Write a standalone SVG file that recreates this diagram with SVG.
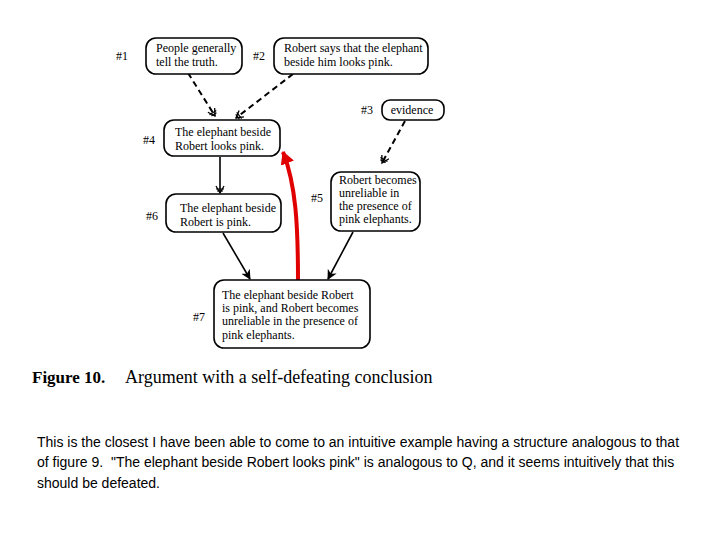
<svg xmlns="http://www.w3.org/2000/svg" width="720" height="540" viewBox="0 0 720 540">
<style>
.box{fill:#fff;stroke:#000;stroke-width:1.6}
.t{font-family:"Liberation Serif",serif;font-size:12px;fill:#000}
.lab{font-family:"Liberation Serif",serif;font-size:12px;fill:#000}
.dash{fill:none;stroke:#000;stroke-width:2;stroke-dasharray:6,4}
.sol{fill:none;stroke:#000;stroke-width:1.6}
.cap{font-family:"Liberation Serif",serif;fill:#000}
.para{font-family:"Liberation Sans",Arial,sans-serif;font-size:14px;fill:#000}
</style>
<defs>
<marker id="ah" markerWidth="10" markerHeight="10" refX="9" refY="5" orient="auto" markerUnits="userSpaceOnUse">
<path d="M0,0 L10,5 L0,10 L3,5 z" fill="#000"/>
</marker>
<marker id="dh" markerWidth="10" markerHeight="10" refX="8" refY="5" orient="auto" markerUnits="userSpaceOnUse">
<path d="M1,1 L8,5 L1,9" fill="none" stroke="#000" stroke-width="1.3"/>
<path d="M4,1 L4,9 M6,2 L6,8" stroke="#000" stroke-width="1.2"/>
</marker>
<marker id="rh" markerWidth="14" markerHeight="14" refX="12" refY="7" orient="auto" markerUnits="userSpaceOnUse">
<path d="M0,0 L13,7 L0,14 z" fill="#e00000"/>
</marker>
</defs>
<rect width="720" height="540" fill="#fff"/>
<g id="connectors">
<line class="dash" x1="188" y1="73" x2="215" y2="116" marker-end="url(#dh)"/>
<line class="dash" x1="293" y1="74" x2="236" y2="118" marker-end="url(#dh)"/>
<line class="dash" x1="405" y1="121" x2="382" y2="163" marker-end="url(#dh)"/>
<line class="sol" x1="220" y1="157" x2="220" y2="193" marker-end="url(#dh)"/>
<line class="sol" x1="223" y1="233" x2="250" y2="279" marker-end="url(#ah)"/>
<line class="sol" x1="353" y1="232" x2="328" y2="279" marker-end="url(#ah)"/>
<path d="M298,281 C298,225 296,185 283,152" fill="none" stroke="#e00000" stroke-width="4" marker-end="url(#rh)"/>
</g>
<g id="n1">
<text class="lab" x="116" y="60">#1</text>
<rect class="box" x="146" y="38" width="96" height="36" rx="10"/>
<text class="t" x="156" y="52">People generally</text>
<text class="t" x="156" y="66">tell the truth.</text>
</g>
<g id="n2">
<text class="lab" x="253" y="60">#2</text>
<rect class="box" x="274" y="38" width="154" height="36" rx="10"/>
<text class="t" x="284" y="52">Robert says that the elephant</text>
<text class="t" x="284" y="66">beside him looks pink.</text>
</g>
<g id="n3">
<text class="lab" x="361" y="114">#3</text>
<rect class="box" x="382" y="100" width="62" height="20" rx="8"/>
<text class="t" x="412" y="114" text-anchor="middle">evidence</text>
</g>
<g id="n4">
<text class="lab" x="143" y="144">#4</text>
<rect class="box" x="164" y="120" width="116" height="36" rx="10"/>
<text class="t" x="175" y="136">The elephant beside</text>
<text class="t" x="175" y="150">Robert looks pink.</text>
</g>
<g id="n5">
<text class="lab" x="311" y="202">#5</text>
<rect class="box" x="331" y="172" width="89" height="59" rx="10"/>
<text class="t" x="339" y="184">Robert becomes</text>
<text class="t" x="339" y="197">unreliable in</text>
<text class="t" x="339" y="210">the presence of</text>
<text class="t" x="339" y="223">pink elephants.</text>
</g>
<g id="n6">
<text class="lab" x="146" y="220">#6</text>
<rect class="box" x="166" y="194" width="115" height="38" rx="10"/>
<text class="t" x="180" y="212">The elephant beside</text>
<text class="t" x="180" y="226">Robert is pink.</text>
</g>
<g id="n7">
<text class="lab" x="193" y="321">#7</text>
<rect class="box" x="214" y="280" width="156" height="68" rx="10"/>
<text class="t" x="222" y="299">The elephant beside Robert</text>
<text class="t" x="222" y="312">is pink, and Robert becomes</text>
<text class="t" x="222" y="325">unreliable in the presence of</text>
<text class="t" x="222" y="339">pink elephants.</text>
</g>
<text class="cap" x="32" y="383" font-size="17" font-weight="bold">Figure 10.</text>
<text class="cap" x="125" y="383" font-size="18">Argument with a self-defeating conclusion</text>
<text class="para" x="37" y="447">This is the closest I have been able to come to an intuitive example having a structure analogous to that</text>
<text class="para" x="37" y="467" xml:space="preserve">of figure 9.  "The elephant beside Robert looks pink" is analogous to Q, and it seems intuitively that this</text>
<text class="para" x="37" y="488">should be defeated.</text>
</svg>
